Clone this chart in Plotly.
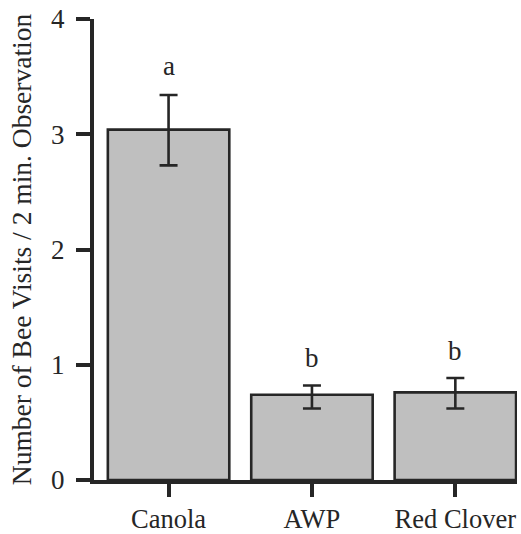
import plotly.graph_objects as go

categories = ["Canola", "AWP", "Red Clover"]
means = [3.04, 0.74, 0.76]
err_plus = [0.30, 0.08, 0.125]
err_minus = [0.31, 0.12, 0.14]
letters = ["a", "b", "b"]
letter_y = [3.59, 1.06, 1.12]
y_ticks = [0, 1, 2, 3, 4]

FONT = "Liberation Serif"
INK = "#262626"

fig = go.Figure()
fig.add_trace(go.Bar(
    x=categories, y=means,
    marker=dict(color="#bfbfbf", line=dict(color=INK, width=2.6)),
    error_y=dict(type="data", array=err_plus, arrayminus=err_minus,
                 color=INK, thickness=2.6, width=9),
    showlegend=False,
))
for c, l, yy in zip(categories, letters, letter_y):
    fig.add_annotation(x=c, y=yy, text=l, showarrow=False,
                       font=dict(family=FONT, size=27, color=INK))

fig.update_layout(
    width=521, height=534,
    margin=dict(l=94, r=4, t=19, b=54),
    paper_bgcolor="white", plot_bgcolor="white",
    bargap=0.153,
    font=dict(family=FONT, size=27, color=INK),
    xaxis=dict(range=[-0.52, 2.43], showline=True, linecolor=INK, linewidth=4,
               ticks="outside", ticklen=13, tickwidth=4, tickcolor=INK,
               showgrid=False, zeroline=False, automargin=False,
               ticklabelstandoff=-1, ticklabeloverflow="allow",
               tickfont=dict(family=FONT, size=26.5, color=INK)),
    yaxis=dict(range=[0, 4], tickvals=y_ticks, showline=True, linecolor=INK,
               linewidth=4, ticks="outside", ticklen=14, tickwidth=4,
               tickcolor=INK, showgrid=False, zeroline=False, automargin=False,
               ticklabelstandoff=6, ticklabeloverflow="allow",
               tickfont=dict(family=FONT, size=27, color=INK),
               title=dict(text="Number of Bee Visits / 2 min. Observation",
                          font=dict(family=FONT, size=27.5, color=INK),
                          standoff=12)),
)
# remove the browser's default 8px body margin so the figure fills the window
fig.write_html("out.html", config={"displayModeBar": False},
               post_script="document.body.style.margin='0';")
